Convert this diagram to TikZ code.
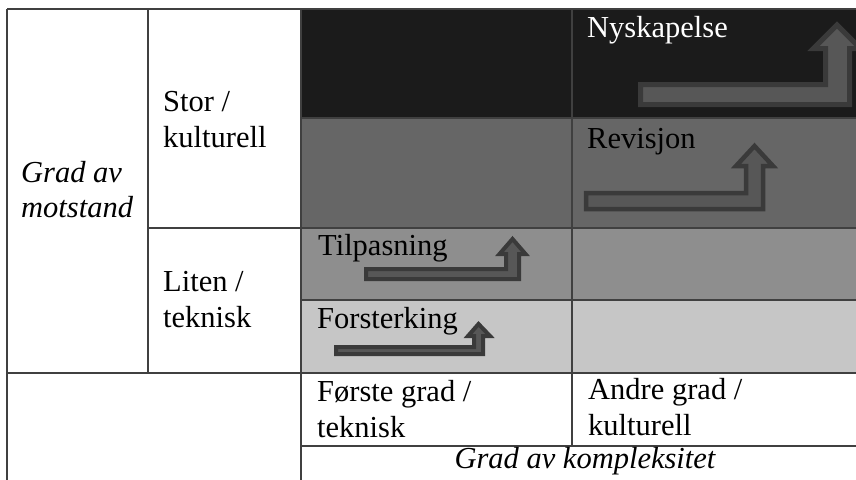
\documentclass[tikz,border=0pt]{standalone}
\usepackage{fontspec}
\setmainfont{Liberation Serif}
\definecolor{gridc}{HTML}{404040}
\definecolor{rowA}{HTML}{1B1B1B}
\definecolor{rowB}{HTML}{666666}
\definecolor{rowC}{HTML}{8E8E8E}
\definecolor{rowD}{HTML}{C6C6C6}
\definecolor{arrfill}{HTML}{575757}
\definecolor{arrline}{HTML}{3A3A3A}
\begin{document}
\begin{tikzpicture}[x=1pt,y=-1pt,
  grid/.style={draw=gridc, line width=1.6pt},
  lbl/.style={anchor=base west, inner sep=0pt, font=\fontsize{30.5}{36}\selectfont, align=left},
  arr/.style={fill=arrfill, draw=arrline, line width=#1, line join=miter},
  arr/.default=4.5pt]
\useasboundingbox (0,0) rectangle (856,479);
% cell fills
\fill[rowA] (301,9) rectangle (860,118);
\fill[rowB] (301,118) rectangle (860,228);
\fill[rowC] (301,228) rectangle (860,300);
\fill[rowD] (301,300) rectangle (860,373);
% grid lines
\draw[grid] (7,9) -- (860,9);
\draw[grid] (301,118) -- (860,118);
\draw[grid] (148,228) -- (860,228);
\draw[grid] (301,300) -- (860,300);
\draw[grid] (7,373) -- (860,373);
\draw[grid] (301,446) -- (860,446);
\draw[grid] (7,9) -- (7,482);
\draw[grid] (148,9) -- (148,373);
\draw[grid] (301,9) -- (301,482);
\draw[grid] (572,9) -- (572,446);
% arrows
\draw[arr=5pt] (640.5,104.5) -- (640.5,84.5) -- (825.5,84.5) -- (825.5,48.5) -- (813.5,48.5)
  -- (837,25) -- (860.5,48.5) -- (849.5,48.5) -- (849.5,104.5) -- cycle;
\draw[arr] (586,209) -- (586,193) -- (746,193) -- (746,166) -- (736,166) -- (754.5,146)
  -- (773,166) -- (763,166) -- (763,209) -- cycle;
\draw[arr=4pt] (366,279) -- (366,269) -- (506,269) -- (506,254) -- (499.5,254) -- (512.5,239)
  -- (525.5,254) -- (519,254) -- (519,279) -- cycle;
\draw[arr=4pt] (336,354) -- (336,347) -- (474,347) -- (474,336) -- (468,336) -- (478.5,324)
  -- (490,336) -- (483,336) -- (483,354) -- cycle;
% labels (multi-line nodes: base = last line)
\node[lbl, font=\fontsize{30.5}{35}\selectfont\itshape] (gam) at (21,217) {Grad av\\motstand};
\node[lbl] (stor) at (163,147) {Stor /\\kulturell};
\node[lbl] (liten) at (163,327) {Liten /\\teknisk};
\node[lbl, text=white] (nysk) at (587,37) {Nyskapelse};
\node[lbl] (rev) at (587,148) {Revisjon};
\node[lbl] (tilp) at (318,255) {Tilpasning};
\node[lbl] (forst) at (317,328) {Forsterking};
\node[lbl] (forste) at (317,437) {Første grad /\\teknisk};
\node[lbl] (andre) at (588,435) {Andre grad /\\kulturell};
\node[lbl, anchor=base, font=\fontsize{30.5}{36}\selectfont\itshape] (gak) at (585,468) {Grad av kompleksitet};
\end{tikzpicture}
\end{document}
